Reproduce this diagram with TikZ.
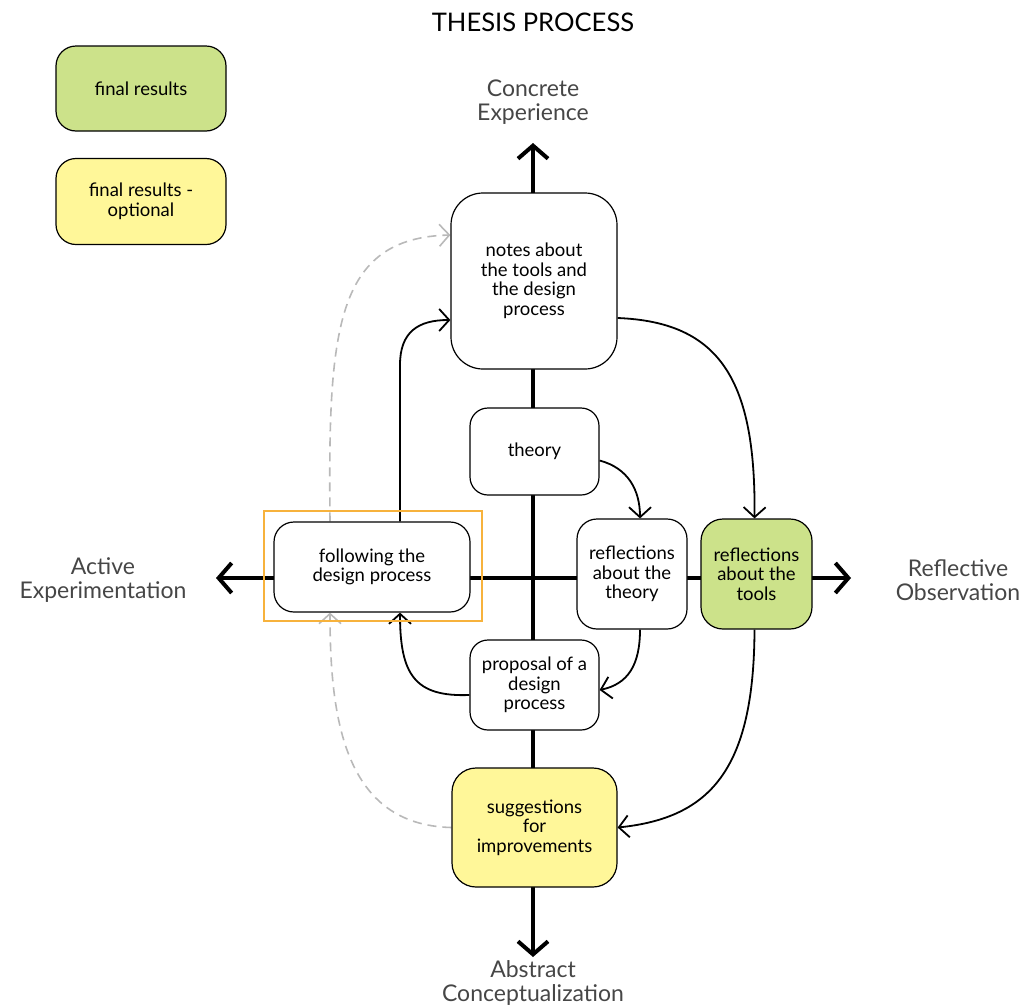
\documentclass[tikz,border=0pt]{standalone}
\usepackage{fontspec}
\setmainfont{Lato}
\usetikzlibrary{arrows.meta,backgrounds}
\definecolor{resgreen}{RGB}{204,226,138}
\definecolor{resyellow}{RGB}{255,247,153}
\definecolor{hlorange}{RGB}{247,178,60}
\definecolor{dashgray}{RGB}{185,185,185}
\definecolor{axistext}{RGB}{70,70,70}
\begin{document}
\begin{tikzpicture}[x=1pt,y=-1pt,
  box/.style={draw=black, line width=1.2pt, fill=white, rounded corners=#1,
    align=center, font=\fontsize{18.5}{19.5}\selectfont, inner sep=0pt},
  box/.default=20pt,
  axislabel/.style={align=center, text=axistext, font=\fontsize{23}{24}\selectfont},
  axisline/.style={line width=4pt, {Straight Barb[length=13pt,width=30pt]}-{Straight Barb[length=13pt,width=30pt]}},
  flow/.style={line width=1.8pt, -{Straight Barb[length=10pt,width=22pt]}},
  optflow/.style={line width=1.6pt, dashgray, dash pattern=on 9pt off 6pt, -{Straight Barb[length=10pt,width=22pt]}}
]
\useasboundingbox (0,0) rectangle (1020,1007);

% title and legend
\node[font=\fontsize{25.6}{28}\selectfont] (title) at (533,22) {THESIS PROCESS};
\node[box, fill=resgreen, minimum width=170pt, minimum height=85pt] (leg1) at (141,88.5) {final results};
\node[box, fill=resyellow, minimum width=170pt, minimum height=86pt] (leg2) at (141,201.5) {final results -\\optional};

% axis labels
\node[axislabel] (ce) at (533,102) {Concrete\\Experience};
\node[axislabel] (ac) at (533,983) {Abstract\\Conceptualization};
\node[axislabel] (ae) at (103,580) {Active\\Experimentation};
\node[axislabel] (ro) at (958,580) {Reflective\\Observation};

% axis end points
\coordinate (axT) at (533,143);
\coordinate (axB) at (533,957);
\coordinate (axL) at (216,578);
\coordinate (axR) at (851,578);

% nodes
\node[box=32pt, minimum width=166pt, minimum height=176pt] (notes) at (534,281) {notes about\\the tools and\\the design\\process};
\node[box=18pt, minimum width=129pt, minimum height=87pt] (theory) at (534.5,451.5) {theory};
\node[box=20pt, minimum width=110pt, minimum height=110pt] (rtheory) at (632,574) {reflections\\about the\\theory};
\node[box=22pt, fill=resgreen, minimum width=111pt, minimum height=110pt] (tools) at (756.5,574) {reflections\\about the\\tools};
\node[box=20pt, minimum width=196pt, minimum height=90pt] (fol) at (372,567) {following the\\design process};
\node[box=18pt, minimum width=129pt, minimum height=90pt] (prop) at (534.5,685) {proposal of a\\design\\process};
\node[box=24pt, fill=resyellow, minimum width=165pt, minimum height=119pt] (sugg) at (534.5,827.5) {suggestions\\for\\improvements};

% highlight frame
\node[draw=hlorange, line width=2pt, minimum width=218pt, minimum height=110pt, inner sep=0pt] (hl) at (373,566) {};

\begin{scope}[on background layer]
  \draw[axisline] (axB) -- (axT);
  \draw[axisline] (axL) -- (axR);
  % connectors
  \draw[flow] ([yshift=-37pt]notes.east) .. controls (720,322) and (756,380) .. ([xshift=-2pt]tools.north);
  \draw[flow] ([yshift=-9pt]theory.east) .. controls (628,468) and (640,490) .. ([xshift=8pt]rtheory.north);
  \draw[flow] ([xshift=8pt]rtheory.south) .. controls (640,665) and (628,684) .. ([yshift=-5pt]prop.east);
  \draw[flow] ([xshift=-2pt]tools.south) .. controls (754,770) and (710,818) .. (sugg.east);
  \draw[flow] ([yshift=-10pt]prop.west) .. controls (415,697) and (400,675) .. ([xshift=28pt]fol.south);
  \draw[flow] ([xshift=28pt]fol.north) -- (400,365) .. controls (400,332) and (418,320) .. ([yshift=-39pt]notes.west);
  \draw[optflow] ([xshift=-42pt]fol.north) .. controls (328,330) and (335,238) .. ([yshift=46pt]notes.west);
  \draw[optflow] (sugg.west) .. controls (345,825) and (330,720) .. ([xshift=-42pt]fol.south);
\end{scope}
\end{tikzpicture}
\end{document}
